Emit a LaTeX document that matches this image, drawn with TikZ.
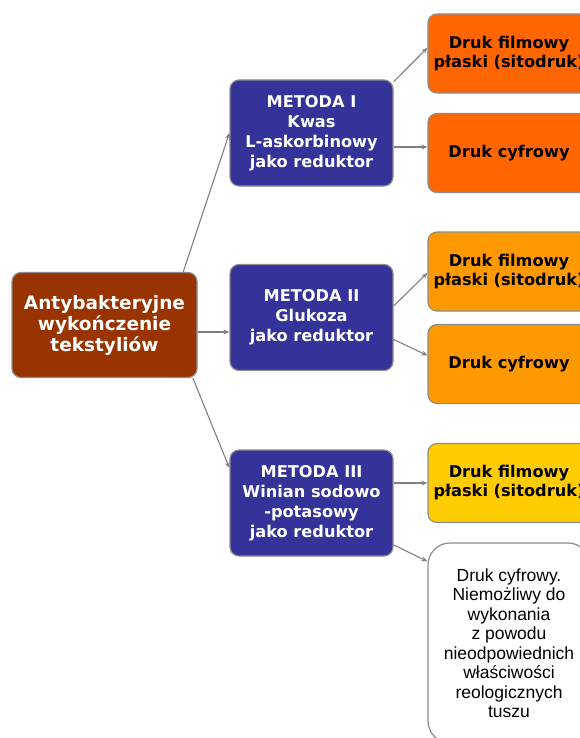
\documentclass[tikz,border=0pt]{standalone}
\usepackage{fontspec}
\setmainfont{DejaVu Sans}
\newfontfamily\arialfont{Liberation Sans}
\usetikzlibrary{arrows.meta}
\definecolor{rootbrown}{HTML}{993300}
\definecolor{metblue}{HTML}{333399}
\definecolor{drukA}{HTML}{FF6600}
\definecolor{drukB}{HTML}{FF9900}
\definecolor{drukC}{HTML}{FFCC00}

\begin{document}
\begin{tikzpicture}[
  x=1pt,
  y=-1pt,
  box/.style={draw=black!45, line width=1.2pt, rounded corners=9pt, align=center, inner sep=0pt},
  root/.style={box, fill=rootbrown, text=white, minimum width=185pt, minimum height=105pt,
    font=\bfseries\fontsize{18.5}{21}\selectfont},
  metoda/.style={box, fill=metblue, text=white, minimum width=163pt, minimum height=106pt,
    font=\bfseries\fontsize{16.2}{20}\selectfont},
  druk/.style={box, text=black, minimum width=162pt, minimum height=79pt,
    font=\bfseries\fontsize{16.2}{19}\selectfont},
  conn/.style={->, >={Stealth[length=6pt, width=5pt]}, draw=black!50, line width=1.1pt}
]
  % Frame: 580 x 738, y grows downwards
  \useasboundingbox (0,0) rectangle (580,738);
  % Root node
  \node[root] (root) at (104.5,325) {Antybakteryjne\\wykończenie\\tekstyliów};
  % Methods
  \node[metoda] (m1) at (311.5,133)   {METODA I\\Kwas\\L-askorbinowy\\jako reduktor};
  \node[metoda] (m2) at (311.5,317.5) {METODA II\\Glukoza\\jako reduktor};
  \node[metoda] (m3) at (311.5,503)   {METODA III\\Winian sodowo\\-potasowy\\jako reduktor};
  % Printing variants
  \node[druk, fill=drukA] (d1) at (509,53.5)  {Druk filmowy\\płaski (sitodruk)};
  \node[druk, fill=drukA] (d2) at (509,153)   {Druk cyfrowy};
  \node[druk, fill=drukB] (d3) at (509,271.5) {Druk filmowy\\płaski (sitodruk)};
  \node[druk, fill=drukB] (d4) at (509,364)   {Druk cyfrowy};
  \node[druk, fill=drukC] (d5) at (509,483)   {Druk filmowy\\płaski (sitodruk)};
  \node[druk, fill=white, minimum height=200pt, rounded corners=22pt,
    font=\arialfont\fontsize{17.5}{19.5}\selectfont] (d6) at (509,643)
    {Druk cyfrowy.\\Niemożliwy do\\wykonania\\z powodu\\nieodpowiednich\\właściwości\\reologicznych\\tuszu};
  % Connectors root -> methods
  \draw[conn] (root.34) -- (m1.west);
  \draw[conn] ([yshift=-7pt]root.east) -- ([yshift=-7pt]root.east -| m2.west);
  \draw[conn] (root.-31) -- (m3.157);
  % Connectors methods -> printing
  \draw[conn] (m1.32) -- (d1.176);
  \draw[conn] ([yshift=-14pt]m1.east) -- ([yshift=-14pt]m1.east -| d2.west);
  \draw[conn] (m2.8) -- (d3.181);
  \draw[conn] (m2.-15) -- (d4.174);
  \draw[conn] (d5.west -| m3.east) -- (d5.west);
  \draw[conn] (m3.-27) -- (d6.135);
\end{tikzpicture}
\end{document}
